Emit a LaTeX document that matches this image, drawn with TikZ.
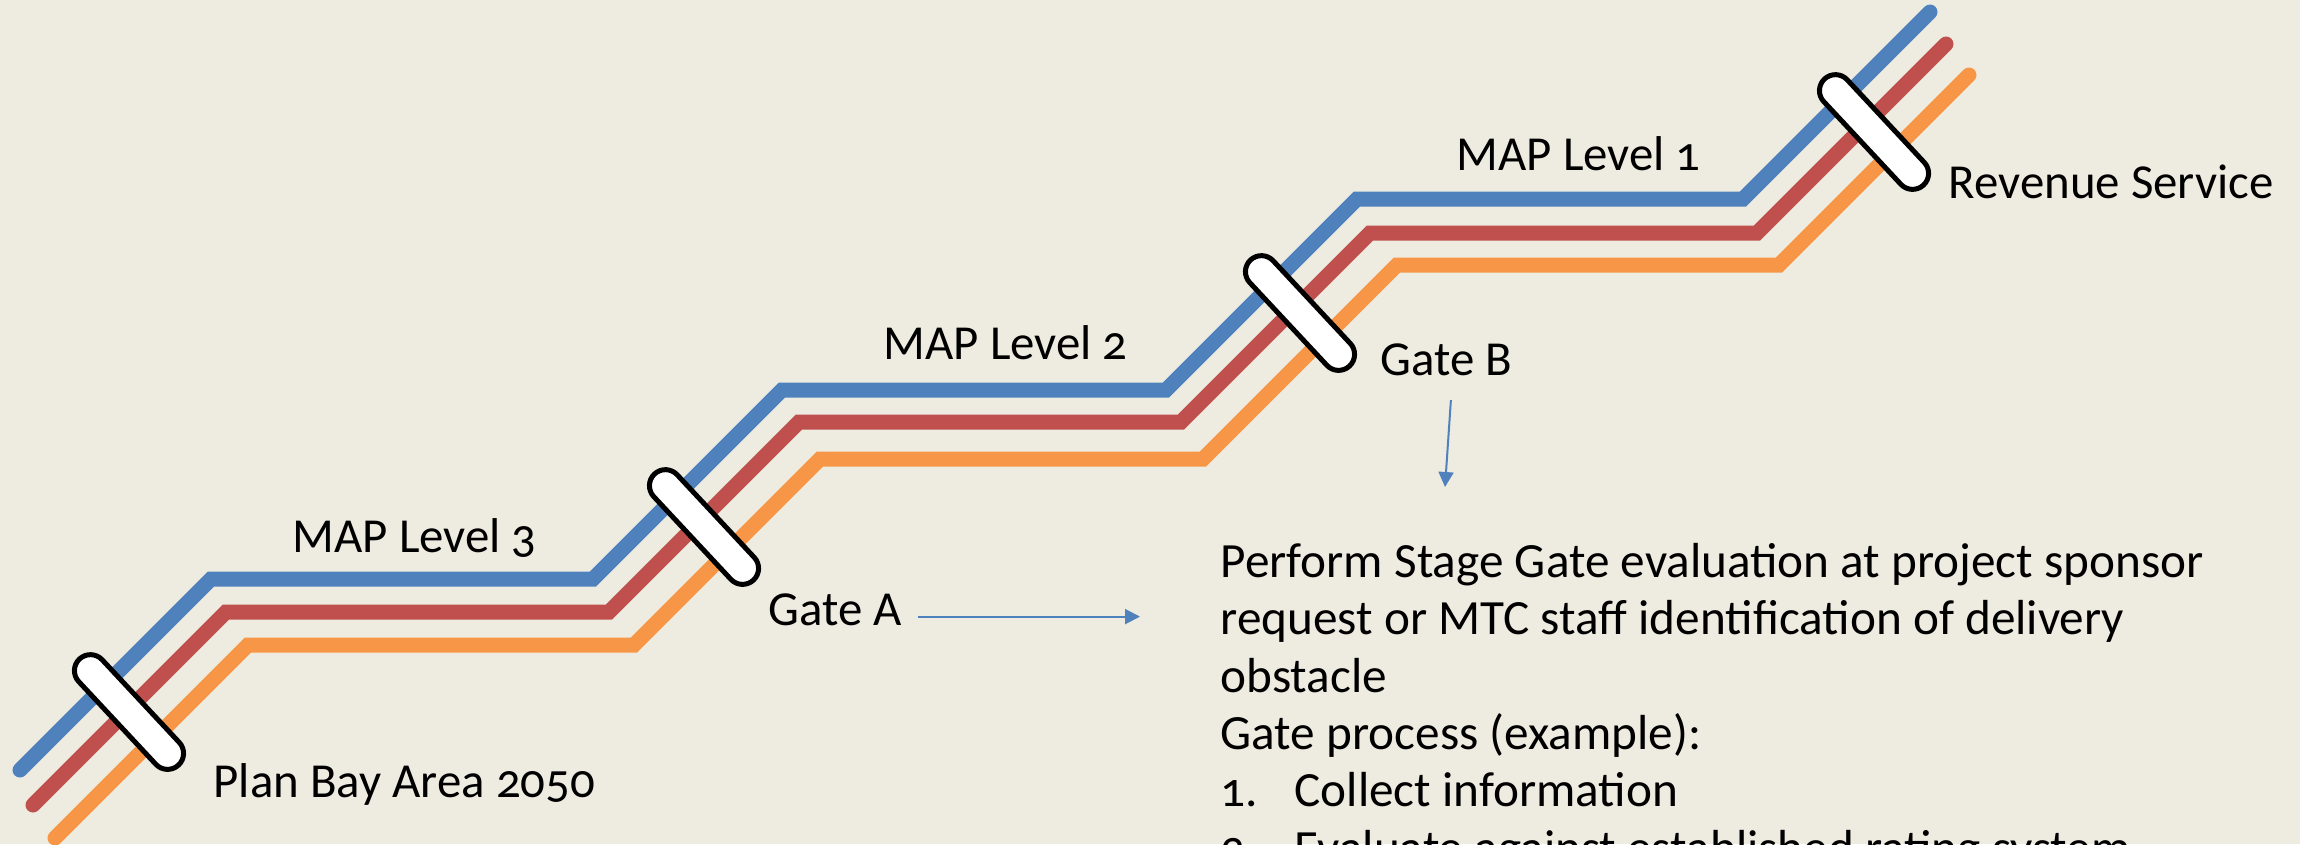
\documentclass[tikz,border=0pt]{standalone}
\usepackage{fontspec}
\setmainfont{Carlito}[Numbers=OldStyle]
\usetikzlibrary{arrows.meta}
\definecolor{bgx}{HTML}{EEECE1}
\definecolor{blx}{HTML}{4F81BD}
\definecolor{rdx}{HTML}{C0504D}
\definecolor{orx}{HTML}{F79646}

\begin{document}
\begin{tikzpicture}[
        x=0.01cm, y=-0.01cm,
        track/.style={line width=0.15cm,line cap=round},
        gatebar/.style={draw,fill=white,line width=0.05cm,rectangle,rounded corners=0.16cm,
            minimum width=1.45cm,minimum height=0.32cm,rotate=-47},
        lbl/.style={anchor=base west,inner sep=0pt,font=\fontsize{13.9}{17}\selectfont},
        flow/.style={blx,line width=0.02cm,-{Triangle[length=0.15cm,width=0.15cm]}}
    ]
        \useasboundingbox (0,0) rectangle (2300,844);
        \clip (0,0) rectangle (2300,844);
        \fill [bgx] (0,0) rectangle (2300,844);

        \draw [track,blx] (20,770) -- (211,579) -- (593,579) -- (782,390) -- (1166,390)
            -- (1357,199) -- (1743,199) -- (1930,12);
        \draw [track,rdx] (33,805) -- (226,612) -- (609,612) -- (799,422) -- (1181,422)
            -- (1370,233) -- (1757,233) -- (1946,44);
        \draw [track,orx] (55,838) -- (248,645) -- (634,645) -- (820,459) -- (1203,459)
            -- (1397,265) -- (1779,265) -- (1969,75);

        \foreach \gx/\gy/\gname in {129/712/g0,704/527/gA,1300/313/gB,1874/132/gR} {
            \node (\gname) [gatebar] at (\gx,\gy) {};
        }

        \node (map3) [lbl] at (292,552) {MAP Level 3};
        \node (map2) [lbl] at (883,359) {MAP Level 2};
        \node (map1) [lbl] at (1456,170) {MAP Level 1};

        \node (plan) [lbl] at (213,797) {Plan Bay Area 2050};
        \node (labA) [lbl] at (768,625) {Gate A};
        \node (labB) [lbl] at (1380,375) {Gate B};
        \node (rev) [lbl] at (1948,198) {Revenue Service};

        \node (proc) [anchor=base west,inner sep=0pt,align=left,font=\fontsize{14}{16.3}\selectfont]
            at (1220,864) {Perform Stage Gate evaluation at project sponsor\\
            request or MTC staff identification of delivery\\
            obstacle\\
            Gate process (example):\\
            \makebox[0.74cm][l]{1.}Collect information\\
            \makebox[0.74cm][l]{2.}Evaluate against established rating system};

        \coordinate (tipA) at (1140,614);
        \coordinate (tipB) at (1445,487);
        \draw [flow,shorten <=0.15cm] (labA.mid east) -- (labA.mid east -| tipA);
        \draw [flow,shorten <=0.24cm] ([xshift=0.06cm]labB.south) -- (tipB);
    \end{tikzpicture}
\end{document}
